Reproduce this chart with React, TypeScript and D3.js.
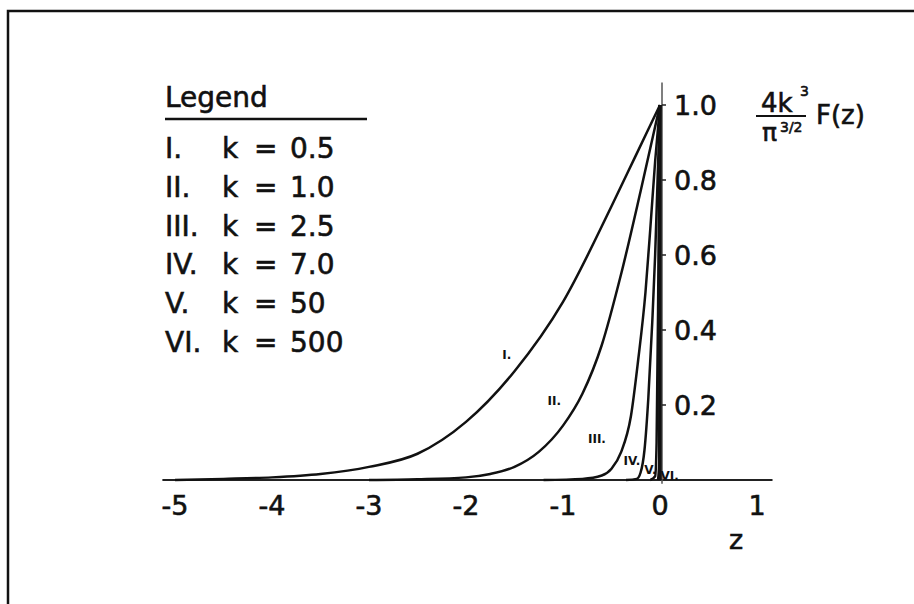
import { useEffect } from 'react'
import * as d3 from 'd3'

// roman numeral labels and k values shown in the legend
const romans = ['I.', 'II.', 'III.', 'IV.', 'V.', 'VI.']
const kValues = ['0.5', '1.0', '2.5', '7.0', '50', '500']

// curves (z, normalised F)
const zI = [-5, -4.5, -4, -3.5, -3, -2.5, -2, -1.5, -1, -0.5, -0.25, 0]
const fI = [0, 0.003, 0.007, 0.016, 0.035, 0.07, 0.155, 0.29, 0.475, 0.73, 0.865, 1]
const zII = [-3, -2.5, -2, -1.75, -1.5, -1.25, -1, -0.8, -0.6, -0.4, -0.2, 0]
const fII = [0, 0.002, 0.007, 0.016, 0.035, 0.075, 0.145, 0.23, 0.36, 0.55, 0.77, 1]
const zIII = [-1.2, -0.8, -0.6, -0.5, -0.4, -0.3, -0.225, -0.15, -0.1, -0.05, 0]
const fIII = [0, 0.003, 0.012, 0.03, 0.075, 0.17, 0.32, 0.5, 0.67, 0.85, 1]
const zIV = [-0.35, -0.24, -0.2, -0.16, -0.12, -0.08, -0.05, -0.025, 0]
const fIV = [0, 0.003, 0.02, 0.08, 0.22, 0.42, 0.6, 0.8, 1]
const zV = [-0.1, -0.05, -0.035, -0.02, -0.01, 0]
const fV = [0, 0.01, 0.1, 0.45, 0.78, 1]
const zVI = [-0.02, -0.008, -0.004, 0]
const fVI = [0, 0.05, 0.5, 1]

// where the little numerals sit next to each curve
const labelZ = [-1.58, -1.09, -0.65, -0.29, -0.1, 0.1]
const labelF = [0.336, 0.213, 0.112, 0.053, 0.03, 0.013]

const xTicks = [-5, -4, -3, -2, -1, 0, 1]
const yTicks = [0.2, 0.4, 0.6, 0.8, 1.0]

const curves = [
  [zI, fI], [zII, fII], [zIII, fIII], [zIV, fIV], [zV, fV], [zVI, fVI],
]

const font = '"DejaVu Sans", sans-serif'
const ink = '#111'

export default function App() {
  useEffect(() => {
    document.body.style.margin = '0'
  }, [])

  const x = d3.scaleLinear().domain([-5, 1]).range([175, 757])
  const y = d3.scaleLinear().domain([0, 1]).range([480, 105])

  const line = d3.line<[number, number]>()
    .x(d => x(d[0]))
    .y(d => y(d[1]))
    .curve(d3.curveMonotoneX)

  // scanned text looks heavier than the plain face
  const heavy = { stroke: ink, strokeWidth: 0.6 }

  return (
    <svg width={914} height={604} style={{ display: 'block', background: '#fff' }} fontFamily={font}>
      {/* frame, only top and left show */}
      <path d="M8,604 L8,11 L914,11" fill="none" stroke={ink} strokeWidth={2.5} />

      {/* x axis */}
      <line x1={x(-5.13)} x2={x(1.16)} y1={y(0)} y2={y(0)} stroke="#222" strokeWidth={2} />
      {xTicks.map(t => (
        <text key={t} x={x(t)} y={y(0) + 35} textAnchor="middle" fontSize={27} fill={ink} {...heavy}>
          {t < 0 ? `-${Math.abs(t)}` : t}
        </text>
      ))}
      <text x={736} y={549} textAnchor="middle" fontSize={27} fill={ink} {...heavy}>z</text>

      {/* y axis at z = 0 */}
      <line x1={x(0) + 2} x2={x(0) + 2} y1={y(-0.01)} y2={y(1.06)} stroke="#555" strokeWidth={1.5} />
      {yTicks.map(t => (
        <g key={t}>
          <line x1={x(0) + 2} x2={x(0) + 6} y1={y(t)} y2={y(t)} stroke="#222" strokeWidth={1.5} />
          <text x={x(0) + 14} y={y(t) + 10} fontSize={27} fill={ink} {...heavy}>{t.toFixed(1)}</text>
        </g>
      ))}

      {/* y label: 4k^3 / pi^{3/2} F(z) */}
      <g fill={ink} {...heavy}>
        <text x={761} y={112} fontSize={26}>4k</text>
        <text x={800} y={96} fontSize={14}>3</text>
        <line x1={756} x2={806} y1={116} y2={116} strokeWidth={2} />
        <text x={762} y={141} fontSize={25}>π</text>
        <text x={780} y={132} fontSize={14}>3/2</text>
        <text x={816} y={124} fontSize={26}>F(z)</text>
      </g>

      {/* curves */}
      {curves.map(([zs, fs], i) => (
        <path
          key={i}
          d={line(zs.map((z, j) => [z, fs[j]] as [number, number])) || ''}
          fill="none"
          stroke={ink}
          strokeWidth={2.5}
        />
      ))}
      {/* discontinuity back to zero at z = 0 */}
      <line x1={x(0)} x2={x(0)} y1={y(1)} y2={y(0)} stroke={ink} strokeWidth={3.5} />

      {romans.map((r, i) => (
        <text key={r} x={x(labelZ[i])} y={y(labelF[i]) + 5} textAnchor="middle" fontSize={12} fontWeight="bold" fill={ink}>
          {r}
        </text>
      ))}

      {/* legend */}
      <text x={165} y={107} fontSize={28} fill={ink} {...heavy}>Legend</text>
      <line x1={165} x2={367} y1={119} y2={119} stroke={ink} strokeWidth={2.5} />
      {romans.map((r, i) => (
        <g key={r} fontSize={28} fill={ink} {...heavy}>
          <text x={165} y={158 + i * 38.8}>{r}</text>
          <text x={222} y={158 + i * 38.8}>k</text>
          <text x={254} y={158 + i * 38.8}>=</text>
          <text x={290} y={158 + i * 38.8}>{kValues[i]}</text>
        </g>
      ))}
    </svg>
  )
}
